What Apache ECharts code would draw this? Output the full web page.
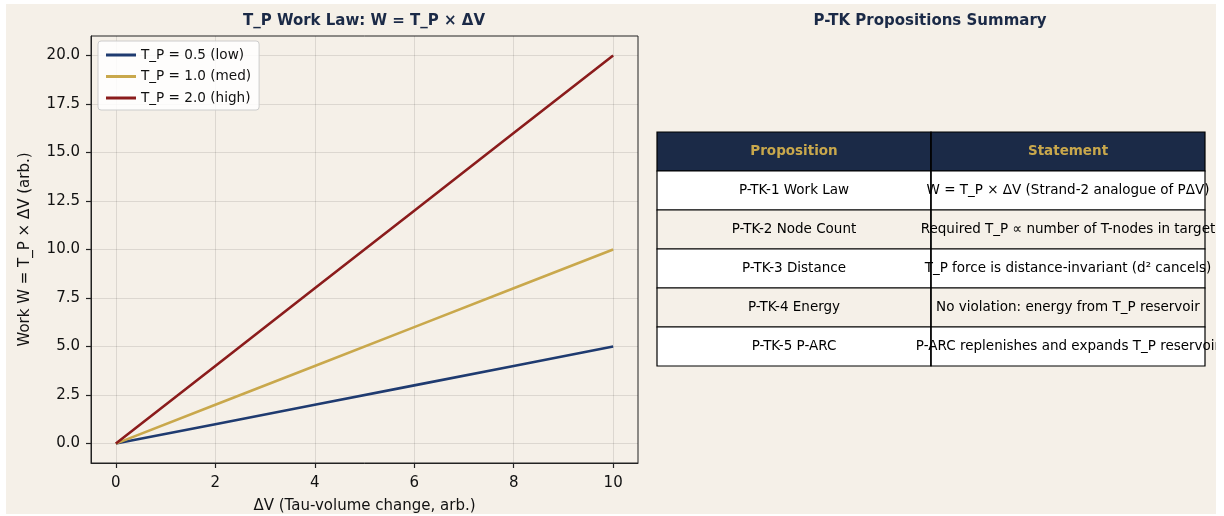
<!DOCTYPE html>
<html>
<head>
<meta charset="utf-8">
<script src="https://cdn.jsdelivr.net/npm/echarts@6/dist/echarts.min.js"></script>
<style>
  html, body { margin: 0; padding: 0; background: #ffffff; }
  #main { position: absolute; left: 6px; top: 4px; width: 1210px; height: 510px; }
</style>
</head>
<body>
<div id="main"></div>
<script>
// data
var deltaV = [0, 2, 4, 6, 8, 10];
var workLow = [0, 1, 2, 3, 4, 5];
var workMed = [0, 2, 4, 6, 8, 10];
var workHigh = [0, 4, 8, 12, 16, 20];
var seriesNames = ['T_P = 0.5 (low)', 'T_P = 1.0 (med)', 'T_P = 2.0 (high)'];
var xTicks = [0, 2, 4, 6, 8, 10];
var yTicks = [0, 2.5, 5, 7.5, 10, 12.5, 15, 17.5, 20];

var tableHeader = ['Proposition', 'Statement'];
var propositions = ['P-TK-1 Work Law', 'P-TK-2 Node Count', 'P-TK-3 Distance', 'P-TK-4 Energy', 'P-TK-5 P-ARC'];
var statements = [
  'W = T_P \u00d7 \u0394V (Strand-2 analogue of P\u0394V)',
  'Required T_P \u221d number of T-nodes in target',
  'T_P force is distance-invariant (d\u00b2 cancels)',
  'No violation: energy from T_P reservoir',
  'P-ARC replenishes and expands T_P reservoir'
];

var navy = '#1b2a47';
var gold = '#c9a84c';
var bg = '#f5f0e8';
var font = 'DejaVu Sans';

function pairs(xs, ys) {
  return xs.map(function (x, i) { return [x, ys[i]]; });
}

// table built as graphic elements
var tLeft = 651, tTop = 128, tRight = 1199, tSplit = 925, rowH = 39;
var tableEls = [];
var allRows = [tableHeader].concat(propositions.map(function (p, i) { return [p, statements[i]]; }));
allRows.forEach(function (row, r) {
  var y = tTop + r * rowH;
  var fill = r === 0 ? navy : (r % 2 === 1 ? '#ffffff' : bg);
  tableEls.push({ type: 'rect', shape: { x: tLeft, y: y, width: tSplit - tLeft, height: rowH },
    style: { fill: fill, stroke: '#000', lineWidth: 1.2 }, z: 1 });
  tableEls.push({ type: 'rect', shape: { x: tSplit, y: y, width: tRight - tSplit, height: rowH },
    style: { fill: fill, stroke: '#000', lineWidth: 1.2 }, z: 1 });
  [[row[0], (tLeft + tSplit) / 2], [row[1], (tSplit + tRight) / 2]].forEach(function (c) {
    tableEls.push({ type: 'text', x: c[1], y: y + rowH / 2, z: 2,
      style: { text: c[0], fill: r === 0 ? gold : '#000', font: (r === 0 ? 'bold ' : '') + '13.5px "' + font + '"',
        align: 'center', verticalAlign: 'middle' } });
  });
});
// column divider drawn above the overflowing text
tableEls.push({ type: 'line', shape: { x1: tSplit, y1: tTop, x2: tSplit, y2: tTop + allRows.length * rowH },
  style: { stroke: '#000', lineWidth: 1.2 }, z: 3 });

var myChart = echarts.init(document.getElementById('main'));
var option = {
  backgroundColor: bg,
  animation: false,
  textStyle: { fontFamily: font },
  grid: { left: 85, top: 32, width: 547, height: 427, outerBoundsMode: 'none', containLabel: false,
    show: true, borderColor: '#222', borderWidth: 1, backgroundColor: 'transparent' },
  legend: {
    orient: 'vertical', left: 92, top: 37,
    backgroundColor: 'rgba(255,255,255,0.85)', borderColor: '#ccc', borderWidth: 1, borderRadius: 3,
    padding: [7, 8, 5, 8], itemGap: 7.5, itemWidth: 30, itemHeight: 3, icon: 'rect',
    textStyle: { fontFamily: font, fontSize: 13.6, color: '#111' },
    data: seriesNames
  },
  xAxis: {
    type: 'value', min: -0.5, max: 10.5,
    name: '\u0394V (Tau-volume change, arb.)', nameLocation: 'middle', nameGap: 36,
    nameTextStyle: { fontFamily: font, fontSize: 15, color: '#111' },
    axisLine: { show: true, onZero: false, lineStyle: { color: '#222', width: 1 } },
    axisTick: { show: true, inside: false, length: 5, lineStyle: { color: '#222', width: 1.2 }, customValues: xTicks },
    axisLabel: { customValues: xTicks, fontFamily: font, fontSize: 15, color: '#111', margin: 13 },
    splitLine: { show: true, lineStyle: { color: 'rgba(0,0,0,0.1)' } }
  },
  yAxis: {
    type: 'value', min: -1, max: 21,
    name: 'Work W = T_P \u00d7 \u0394V (arb.)', nameLocation: 'middle', nameGap: 58, nameRotate: 90,
    nameTextStyle: { fontFamily: font, fontSize: 15, color: '#111' },
    axisLine: { show: true, onZero: false, lineStyle: { color: '#222', width: 1 } },
    axisTick: { show: true, inside: false, length: 5, lineStyle: { color: '#222', width: 1.2 }, customValues: yTicks },
    axisLabel: { customValues: yTicks, fontFamily: font, fontSize: 15, color: '#111', margin: 11,
      formatter: function (v) { return v.toFixed(1); } },
    splitLine: { show: true, lineStyle: { color: 'rgba(0,0,0,0.1)' } }
  },
  series: [
    { name: seriesNames[0], type: 'line', data: pairs(deltaV, workLow), symbol: 'none', color: '#1f3b70', lineStyle: { width: 2.6 } },
    { name: seriesNames[1], type: 'line', data: pairs(deltaV, workMed), symbol: 'none', color: gold, lineStyle: { width: 2.6 } },
    { name: seriesNames[2], type: 'line', data: pairs(deltaV, workHigh), symbol: 'none', color: '#8b1c1c', lineStyle: { width: 2.6 } }
  ],
  graphic: [
    { type: 'text', x: 358, y: 17, style: { text: 'T_P Work Law: W = T_P \u00d7 \u0394V', fill: navy,
      font: 'bold 15px "' + font + '"', align: 'center', verticalAlign: 'middle' } },
    { type: 'text', x: 924, y: 17, style: { text: 'P-TK Propositions Summary', fill: navy,
      font: 'bold 15px "' + font + '"', align: 'center', verticalAlign: 'middle' } }
  ].concat(tableEls)
};

option && myChart.setOption(option);
</script>
</body>
</html>
